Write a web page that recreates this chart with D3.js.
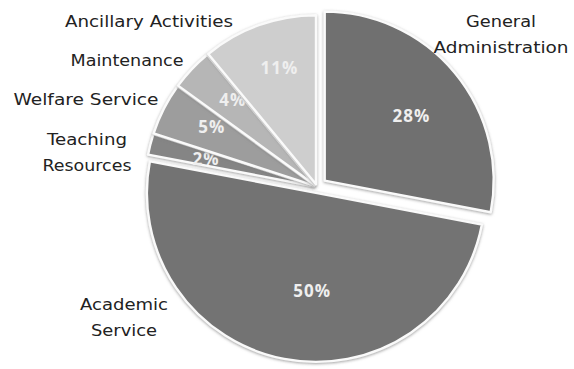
<!DOCTYPE html>
<html>
<head>
<meta charset="utf-8">
<script src="https://cdn.jsdelivr.net/npm/d3@7"></script>
<style>
  html, body { margin: 0; padding: 0; background: #fff; }
  svg { display: block; }
</style>
</head>
<body>
<svg id="chart" width="574" height="369"></svg>
<script>
// Expenditure shares by activity
const categories = [
  "General Administration",
  "Academic Service",
  "Teaching Resources",
  "Welfare Service",
  "Maintenance",
  "Ancillary Activities"
];
const shares = [28, 50, 2, 5, 4, 11];
const percentLabels = ["28%", "50%", "2%", "5%", "4%", "11%"];
// category names as they are broken over lines
const nameLines = [
  ["General", "Administration"],
  ["Academic", "Service"],
  ["Teaching", "Resources"],
  ["Welfare Service"],
  ["Maintenance"],
  ["Ancillary Activities"]
];
const sliceColors = ["#6f6f6f", "#737373", "#858585", "#9d9d9d", "#b6b6b6", "#cecece"];

// layout
const cx = 317, cy = 187, R = 169;
const explode = [10, 6, 3, 3, 3, 3];
const labelRadius = [0.64, 0.58, 0.66, 0.7, 0.7, 0.72];
const labelAngleShift = [0.05, -0.15, 0, 0.05, 0.05, 0.04];
const namePos = [
  {x: 501, y: 27, w: [70, 135]},
  {x: 124, y: 310, w: [88, 66]},
  {x: 87, y: 145, w: [80, 89]},
  {x: 86, y: 105, w: [145]},
  {x: 127, y: 66, w: [113]},
  {x: 149, y: 27, w: [168]}
];

const svg = d3.select("#chart");
const defs = svg.append("defs");
const f = defs.append("filter").attr("id", "soft").attr("x", "-10%").attr("y", "-10%")
  .attr("width", "120%").attr("height", "120%");
f.append("feDropShadow").attr("dx", 0).attr("dy", 1).attr("stdDeviation", 1.6)
  .attr("flood-color", "#777").attr("flood-opacity", 0.7);

const pie = d3.pie().sort(null).value(d => d)(shares);
const arc = d3.arc().innerRadius(0).outerRadius(R);

const g = svg.append("g").attr("transform", `translate(${cx},${cy})`);

const slices = g.selectAll("g.slice").data(pie).join("g")
  .attr("class", "slice")
  .attr("transform", (d, i) => {
    const a = (d.startAngle + d.endAngle) / 2;
    return `translate(${Math.sin(a) * explode[i]},${-Math.cos(a) * explode[i]})`;
  });

slices.append("path")
  .attr("d", arc)
  .attr("fill", (d, i) => sliceColors[i])
  .attr("stroke", "#fafafa")
  .attr("stroke-width", 2.4)
  .attr("stroke-linejoin", "round")
  .attr("filter", "url(#soft)");

// percentage labels inside the slices
slices.append("text")
  .attr("transform", (d, i) => {
    const a = (d.startAngle + d.endAngle) / 2 + labelAngleShift[i];
    const rr = R * labelRadius[i];
    return `translate(${Math.sin(a) * rr},${-Math.cos(a) * rr})`;
  })
  .attr("text-anchor", "middle")
  .attr("dy", "0.36em")
  .attr("font-family", "'Open Sans', 'DejaVu Sans', sans-serif")
  .attr("font-weight", 700)
  .attr("font-size", 17)
  .attr("letter-spacing", 1)
  .attr("fill", "#efefef")
  .text((d, i) => percentLabels[i]);

// category names outside the pie
const names = svg.append("g")
  .attr("font-family", "'DejaVu Sans', sans-serif")
  .attr("font-size", 16)
  .attr("fill", "#222");

nameLines.forEach((lines, i) => {
  const p = namePos[i];
  lines.forEach((line, j) => {
    names.append("text")
      .attr("x", p.x)
      .attr("y", p.y + j * 26)
      .attr("text-anchor", "middle")
      .attr("textLength", p.w[j])
      .attr("lengthAdjust", "spacingAndGlyphs")
      .text(line);
  });
});
</script>
</body>
</html>
